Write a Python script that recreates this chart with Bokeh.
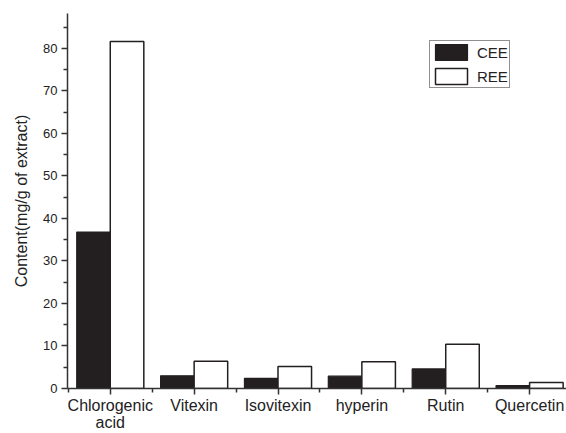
from bokeh.plotting import figure
from bokeh.models import Range1d, FixedTicker, Legend, LegendItem, ColumnDataSource
from bokeh.embed import file_html
from bokeh.resources import INLINE

categories = ["Chlorogenic\nacid", "Vitexin", "Isovitexin", "hyperin", "Rutin", "Quercetin"]
cee = [36.8, 3.0, 2.4, 2.9, 4.6, 0.7]
ree = [81.6, 6.4, 5.2, 6.3, 10.4, 1.4]
y_ticks = [0, 10, 20, 30, 40, 50, 60, 70, 80]

FONT = "Liberation Sans"
AX = "#333333"

xs = list(range(1, len(categories) + 1))
p = figure(width=566, height=433, output_backend="svg", toolbar_location=None,
           x_range=Range1d(0.49, 6.44), y_range=Range1d(0, 88.2),
           min_border_left=67, min_border_top=13, min_border_right=0, min_border_bottom=45)
p.outline_line_color = None
p.grid.visible = False
p.background_fill_color = "white"

src_c = ColumnDataSource(dict(x=[x - 0.2 for x in xs], top=cee))
src_r = ColumnDataSource(dict(x=[x + 0.2 for x in xs], top=ree))
rc = p.vbar(x="x", top="top", bottom=0, width=0.4, source=src_c,
            fill_color="#231f20", line_color="#231f20", line_width=1.2)
rr = p.vbar(x="x", top="top", bottom=0, width=0.4, source=src_r,
            fill_color="white", line_color="#231f20", line_width=1.5)

xa = p.xaxis[0]
xa.ticker = FixedTicker(ticks=xs, minor_ticks=[x + 0.5 for x in range(0, len(categories) + 1)])
xa.major_label_overrides = {x: c for x, c in zip(xs, categories)}
xa.major_label_text_font = FONT
xa.major_label_text_font_size = "16px"
xa.major_label_text_color = "#222222"
xa.major_label_text_line_height = 1.0
xa.major_tick_out = 6
xa.major_tick_in = 0
xa.minor_tick_out = 4
xa.minor_tick_in = 0
xa.axis_line_color = AX
xa.axis_line_width = 1.5
xa.major_tick_line_color = AX
xa.major_tick_line_width = 1.5
xa.minor_tick_line_color = AX
xa.minor_tick_line_width = 1.5
xa.major_label_standoff = 2

ya = p.yaxis[0]
ya.ticker = FixedTicker(ticks=y_ticks, minor_ticks=[v + 5 for v in y_ticks])
ya.axis_label = "Content(mg/g of extract)"
ya.axis_label_text_font = FONT
ya.axis_label_text_font_size = "16px"
ya.axis_label_text_font_style = "normal"
ya.axis_label_text_color = "#222222"
ya.axis_label_standoff = 10
ya.major_label_text_font = FONT
ya.major_label_text_font_size = "13px"
ya.major_label_text_color = "#222222"
ya.major_tick_out = 6
ya.major_tick_in = 0
ya.minor_tick_out = 4
ya.minor_tick_in = 0
ya.axis_line_color = AX
ya.axis_line_width = 1.5
ya.major_tick_line_color = AX
ya.major_tick_line_width = 1.5
ya.minor_tick_line_color = AX
ya.minor_tick_line_width = 1.5
ya.major_label_standoff = 4

legend = Legend(items=[LegendItem(label="CEE", renderers=[rc]),
                       LegendItem(label="REE", renderers=[rr])],
                location=(362, 300))
legend.glyph_width = 40
legend.glyph_height = 20
legend.label_text_font = FONT
legend.label_text_font_size = "15px"
legend.label_text_color = "#222222"
legend.border_line_color = "#231f20"
legend.border_line_width = 1.2
legend.padding = 1
legend.spacing = 4
legend.margin = 0
legend.label_standoff = 6
legend.background_fill_alpha = 1
p.add_layout(legend, "center")

open("out.html", "w").write(file_html(p, INLINE))
